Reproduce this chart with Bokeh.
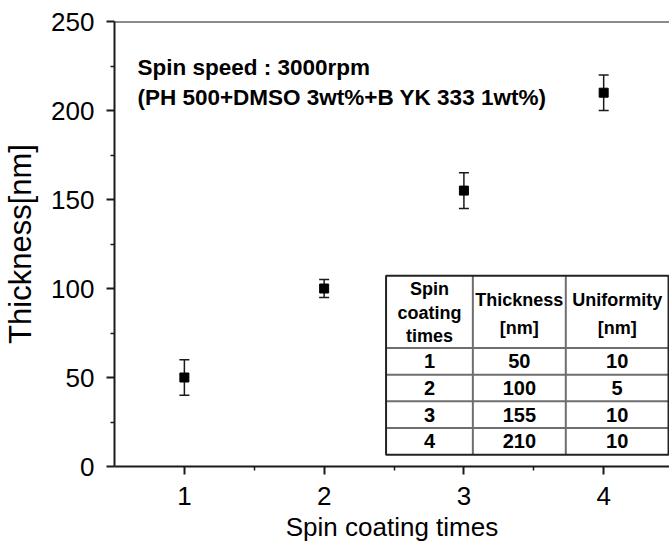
from bokeh.plotting import figure
from bokeh.models import (Range1d, FixedTicker, Span, Label, ColumnDataSource,
                          Whisker, TeeHead)
from bokeh.core.properties import value
from bokeh.embed import file_html
from bokeh.resources import INLINE

# Measured film thickness after repeated spin coating
times = [1, 2, 3, 4]
thickness = [50, 100, 155, 210]
uniformity = [10, 5, 10, 10]

x_ticks = [1, 2, 3, 4]
x_minor = [1.5, 2.5, 3.5]
y_ticks = [0, 50, 100, 150, 200, 250]
y_minor = [25, 75, 125, 175, 225]

header_col1 = ["Spin", "coating", "times"]
header_col2 = ["Thickness", "[nm]"]
header_col3 = ["Uniformity", "[nm]"]

FONT = "Liberation Sans"
INK = "#1a1a1a"

p = figure(width=669, height=549,
           x_range=Range1d(0.5, 4.471), y_range=Range1d(0, 250),
           output_backend="svg", toolbar_location=None,
           min_border_left=113, min_border_right=0,
           min_border_top=21, min_border_bottom=83)
p.grid.visible = False
p.outline_line_color = None
p.background_fill_color = "white"
p.border_fill_color = "white"

# axes
for ax in (p.xaxis[0], p.yaxis[0]):
    ax.axis_line_color = INK
    ax.axis_line_width = 2
    ax.major_tick_line_color = INK
    ax.major_tick_line_width = 2
    ax.minor_tick_line_color = INK
    ax.minor_tick_line_width = 1.5
    ax.major_tick_in = 0
    ax.major_tick_out = 8
    ax.minor_tick_in = 0
    ax.minor_tick_out = 4
    ax.major_label_text_font = FONT
    ax.major_label_text_color = "black"
    ax.axis_label_text_font = FONT
    ax.axis_label_text_font_style = "normal"
    ax.axis_label_text_color = "black"

p.xaxis.ticker = FixedTicker(ticks=x_ticks, minor_ticks=x_minor)
p.yaxis.ticker = FixedTicker(ticks=y_ticks, minor_ticks=y_minor)
p.xaxis.major_label_text_font_size = "26px"
p.yaxis.major_label_text_font_size = "26px"
p.xaxis.major_label_standoff = 12
p.yaxis.major_label_standoff = 12
p.xaxis.axis_label = "Spin coating times"
p.yaxis.axis_label = "Thickness[nm]"
p.xaxis.axis_label_text_font_size = "26px"
p.yaxis.axis_label_text_font_size = "31px"
p.xaxis.axis_label_standoff = 4
p.yaxis.axis_label_standoff = 10

# top border line of the frame
p.add_layout(Span(location=250, dimension="width", line_color=INK, line_width=2))

# data points with uniformity as error bars
src = ColumnDataSource(dict(
    x=times, y=thickness,
    upper=[t + u for t, u in zip(thickness, uniformity)],
    lower=[t - u for t, u in zip(thickness, uniformity)],
))
p.add_layout(Whisker(source=src, base="x", upper="upper", lower="lower",
                     line_color=INK, line_width=1.5,
                     upper_head=TeeHead(size=10, line_color=INK, line_width=1.5),
                     lower_head=TeeHead(size=10, line_color=INK, line_width=1.5)))
p.scatter("x", "y", source=src, marker="square", size=9,
          fill_color="black", line_color="black")

# annotation text
p.add_layout(Label(x=0.664, y=224.2, text="Spin speed : 3000rpm",
                   text_font=FONT, text_font_style="bold", text_font_size="22.5px",
                   text_color="black", text_baseline="alphabetic"))
p.add_layout(Label(x=0.664, y=207.3, text="(PH 500+DMSO 3wt%+B YK 333 1wt%)",
                   text_font=FONT, text_font_style="bold", text_font_size="22.5px",
                   text_color="black", text_baseline="alphabetic"))

# inset table
col_edges = [2.443, 3.064, 3.729, 4.464]
tbl_top = 107.2
head_bot = 66.6
row_h = 15.0
tbl_bot = head_bot - row_h * len(times)
col_mid = [(col_edges[i] + col_edges[i + 1]) / 2 for i in range(3)]

p.quad(left=col_edges[0], right=col_edges[-1], top=tbl_top, bottom=tbl_bot,
       fill_color="white", line_color=None)

# inner grid lines
h_lines = [head_bot - row_h * i for i in range(len(times))]
p.segment(x0=[col_edges[0]] * len(h_lines), x1=[col_edges[-1]] * len(h_lines),
          y0=h_lines, y1=h_lines, line_color="#6e6e6e", line_width=2)
p.segment(x0=col_edges[1:3], x1=col_edges[1:3], y0=[tbl_bot] * 2, y1=[tbl_top] * 2,
          line_color="#6e6e6e", line_width=2)
# outer border
p.quad(left=col_edges[0], right=col_edges[-1], top=tbl_top, bottom=tbl_bot,
       fill_color=None, line_color="#222222", line_width=2)

# header texts
hdr_x = [col_mid[0]] * 3 + [col_mid[1]] * 2 + [col_mid[2]] * 2
hdr_y = [100.0, 86.3, 73.4, 93.7, 78.0, 93.7, 78.0]
hdr_t = header_col1 + header_col2 + header_col3
p.text(x=hdr_x, y=hdr_y, text=hdr_t, text_font=value(FONT),
       text_font_style="bold", text_font_size="18px", text_color="black",
       text_align="center", text_baseline="middle")

# table body
row_y = [head_bot - row_h * (i + 0.5) for i in range(len(times))]
body_x = [col_mid[0]] * 4 + [col_mid[1]] * 4 + [col_mid[2]] * 4
body_y = row_y * 3
body_t = [str(v) for v in times] + [str(v) for v in thickness] + [str(v) for v in uniformity]
p.text(x=body_x, y=body_y, text=body_t, text_font=value(FONT),
       text_font_style="bold", text_font_size="20px", text_color="black",
       text_align="center", text_baseline="middle")

open("out.html", "w").write(file_html(p, INLINE))
